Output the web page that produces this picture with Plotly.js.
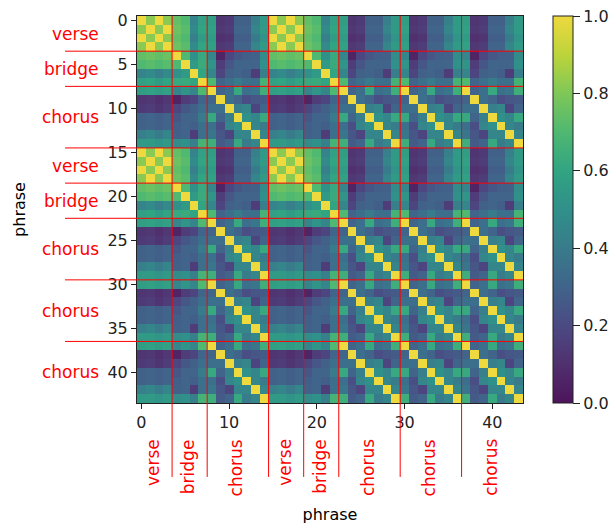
<!DOCTYPE html>
<html>
<head>
<meta charset="utf-8">
<script src="https://cdn.plot.ly/plotly-3.0.1.min.js"></script>
<style>html,body{margin:0;padding:0;background:#fff;}#chart{width:614px;height:524px;}</style>
</head>
<body>
<div id="chart"></div>
<script>
// Section structure of the song
const sectionNames   = ['verse', 'bridge', 'chorus', 'verse', 'bridge', 'chorus', 'chorus', 'chorus'];
const sectionLengths = [4, 4, 7, 4, 4, 7, 7, 7];

// Each phrase refers to one of 15 distinct phrase types (0-3 verse, 4-7 bridge, 8-14 chorus)
const phraseType = [
  0, 1, 2, 3,
  4, 5, 6, 7,
  8, 9, 10, 11, 12, 13, 14,
  0, 1, 2, 3,
  4, 5, 6, 7,
  8, 9, 10, 11, 12, 13, 14,
  8, 9, 10, 11, 12, 13, 14,
  8, 9, 10, 11, 12, 13, 14
];

// Similarity between phrase types (lower triangle)
const typeSimilarity = [
  [1.00],
  [0.82, 1.00],
  [1.00, 0.82, 1.00],
  [0.82, 1.00, 0.82, 1.00],
  [0.74, 0.76, 0.74, 0.76, 1.00],
  [0.70, 0.72, 0.70, 0.72, 0.70, 1.00],
  [0.44, 0.47, 0.42, 0.47, 0.50, 0.55, 1.00],
  [0.58, 0.60, 0.56, 0.60, 0.62, 0.63, 0.60, 1.00],
  [0.57, 0.58, 0.56, 0.58, 0.45, 0.52, 0.45, 0.70, 1.00],
  [0.12, 0.13, 0.10, 0.13, 0.06, 0.15, 0.18, 0.30, 0.30, 1.00],
  [0.14, 0.15, 0.12, 0.15, 0.19, 0.25, 0.29, 0.35, 0.35, 0.35, 1.00],
  [0.29, 0.30, 0.28, 0.30, 0.25, 0.30, 0.30, 0.40, 0.62, 0.30, 0.42, 1.00],
  [0.29, 0.30, 0.28, 0.30, 0.28, 0.30, 0.28, 0.35, 0.35, 0.22, 0.45, 0.50, 1.00],
  [0.42, 0.45, 0.40, 0.45, 0.29, 0.30, 0.15, 0.35, 0.38, 0.25, 0.18, 0.45, 0.45, 1.00],
  [0.55, 0.55, 0.52, 0.55, 0.48, 0.50, 0.42, 0.67, 0.65, 0.26, 0.30, 0.62, 0.40, 0.45, 1.00]
];

const xTicks = [0, 10, 20, 30, 40];
const yTicks = [0, 5, 10, 15, 20, 25, 30, 35, 40];
const cbTicks = [0.0, 0.2, 0.4, 0.6, 0.8, 1.0];

// slightly muted viridis, as it appears in the picture
const colorStops = [
  [0.0, '#4d145b'], [0.1, '#50306e'], [0.2, '#4b4a83'], [0.3, '#40648a'],
  [0.4, '#387b8b'], [0.5, '#30908a'], [0.6, '#31a482'], [0.7, '#4fb871'],
  [0.8, '#7fc758'], [0.9, '#bcd43a'], [1.0, '#eed93f']
];

function sim(a, b) { return a >= b ? typeSimilarity[a][b] : typeSimilarity[b][a]; }

const n = phraseType.length;
const idx = phraseType.map((_, i) => i);
const z = idx.map(i => idx.map(j => sim(phraseType[i], phraseType[j])));

// section boundaries and centers
const starts = [];
let acc = 0;
sectionLengths.forEach(l => { starts.push(acc); acc += l; });
const bounds = starts.slice(1).map(s => s - 0.5);
const centers = starts.map((s, k) => s + (sectionLengths[k] - 1) / 2);

const RED = '#ff0000';
const FONT = 'DejaVu Sans, sans-serif';

const shapes = [];
bounds.forEach(b => {
  shapes.push({type: 'line', xref: 'paper', yref: 'y', x0: -0.1865, x1: 1.0, y0: b, y1: b,
               line: {color: RED, width: 1}, layer: 'above'});
  shapes.push({type: 'line', xref: 'x', yref: 'paper', x0: b, x1: b, y0: 1.0, y1: -0.191,
               line: {color: RED, width: 1}, layer: 'above'});
});

const annotations = [];
sectionNames.forEach((name, k) => {
  annotations.push({text: name, xref: 'paper', yref: 'y', x: -0.093, y: centers[k],
                    xanchor: 'right', yanchor: 'middle', showarrow: false,
                    font: {family: FONT, size: 17, color: RED}});
  annotations.push({text: name, xref: 'x', yref: 'paper', x: centers[k], y: -0.088,
                    xanchor: 'center', yanchor: 'top', textangle: -90, showarrow: false,
                    xshift: -2,
                    font: {family: FONT, size: 17, color: RED}});
});

const trace = {
  type: 'heatmap',
  z: z,
  x: idx,
  y: idx,
  zmin: 0, zmax: 1,
  colorscale: colorStops,
  showscale: true,
  colorbar: {
    x: 1.078, xanchor: 'left', xpad: 0,
    y: 0.5, yanchor: 'middle', len: 1, lenmode: 'fraction', ypad: 0,
    thickness: 20, thicknessmode: 'pixels',
    outlinewidth: 1, outlinecolor: '#222',
    tickvals: cbTicks, tickformat: '.1f',
    ticks: 'outside', ticklen: 7, tickwidth: 1, tickcolor: '#222',
    tickfont: {family: FONT, size: 16, color: '#222'}
  },
  hoverinfo: 'none'
};

const axisCommon = {
  ticks: 'outside', ticklen: 5, tickwidth: 1, tickcolor: '#222',
  showline: true, linecolor: '#222', linewidth: 1, mirror: true,
  showgrid: false, zeroline: false,
  tickfont: {family: FONT, size: 16, color: '#222'}
};

const layout = {
  width: 614, height: 524,
  margin: {l: 137, r: 91, t: 16, b: 121, autoexpand: false},
  paper_bgcolor: '#fff', plot_bgcolor: '#fff',
  xaxis: Object.assign({}, axisCommon, {
    range: [-0.5, n - 0.5], tickvals: xTicks,
    title: {text: 'phrase', font: {family: FONT, size: 16, color: '#000'}, standoff: 79}
  }),
  yaxis: Object.assign({}, axisCommon, {
    range: [n - 0.5, -0.5], tickvals: yTicks,
    title: {text: 'phrase', font: {family: FONT, size: 16, color: '#000'}, standoff: 77}
  }),
  shapes: shapes,
  annotations: annotations,
  showlegend: false
};

Plotly.newPlot('chart', [trace], layout, {displayModeBar: false, staticPlot: true});
</script>
</body>
</html>
